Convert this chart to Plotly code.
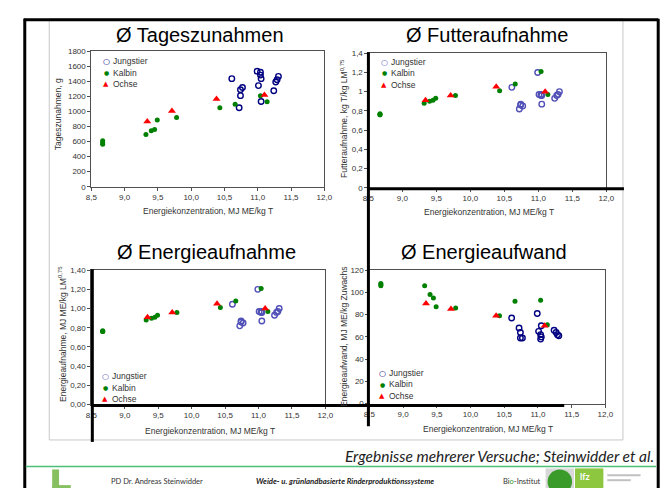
import plotly.graph_objects as go

W, H = 668, 488

# ---------------- data ----------------
x_ticks = [8.5, 9.0, 9.5, 10.0, 10.5, 11.0, 11.5, 12.0]
x_ticktext = ["8,5", "9,0", "9,5", "10,0", "10,5", "11,0", "11,5", "12,0"]

tz_ticks = [0, 200, 400, 600, 800, 1000, 1200, 1400, 1600, 1800]
tz_ticktext = ["0", "200", "400", "600", "800", "1000", "1200", "1400", "1600", "1800"]
fa_ticks = [0, 0.2, 0.4, 0.6, 0.8, 1.0, 1.2, 1.4]
fa_ticktext = ["0", "0,2", "0,4", "0,6", "0,8", "1", "1,2", "1,4"]
ea_ticks = [0, 0.2, 0.4, 0.6, 0.8, 1.0, 1.2, 1.4]
ea_ticktext = ["0,00", "0,20", "0,40", "0,60", "0,80", "1,00", "1,20", "1,40"]
aw_ticks = [0, 20, 40, 60, 80, 100, 120]
aw_ticktext = ["0", "20", "40", "60", "80", "100", "120"]

series_names = ["Jungstier", "Kalbin", "Ochse"]

jung_x = [10.61, 10.72, 10.74, 10.74, 10.77, 10.99, 11.01, 11.04, 11.04, 11.05, 11.05, 11.24, 11.27, 11.29, 11.31]
jung_tz = [1436, 1050, 1210, 1288, 1318, 1535, 1344, 1522, 1483, 1436, 1132, 1275, 1392, 1422, 1466]
jung_fa = [1.045, 0.82, 0.86, 0.87, 0.85, 1.20, 0.97, 0.97, 0.96, 0.96, 0.87, 0.93, 0.96, 0.97, 1.00]
jung_ea = [1.045, 0.82, 0.86, 0.87, 0.85, 1.20, 0.97, 0.97, 0.96, 0.96, 0.87, 0.93, 0.96, 0.97, 1.00]
jung_aw = [77, 68, 64, 59, 59, 81, 65, 62, 58, 70, 60, 66, 64, 62, 61]

kalb_x = [8.67, 8.67, 8.67, 9.32, 9.40, 9.45, 9.49, 9.78, 10.43, 10.66, 11.04, 11.14]
kalb_tz = [610, 585, 565, 695, 745, 760, 885, 920, 1050, 1095, 1210, 1130]
kalb_fa = [0.77, 0.76, 0.76, 0.88, 0.90, 0.91, 0.93, 0.96, 1.01, 1.08, 1.21, 0.97]
kalb_ea = [0.77, 0.76, 0.76, 0.88, 0.90, 0.91, 0.93, 0.96, 1.01, 1.08, 1.21, 0.97]
kalb_aw = [108, 107, 106, 106, 98, 95, 87, 86, 79, 92, 93, 71]

ochs_x = [9.34, 9.71, 10.38, 11.10]
ochs_tz = [865, 1005, 1165, 1220]
ochs_fa = [0.91, 0.96, 1.05, 1.00]
ochs_ea = [0.91, 0.96, 1.05, 1.00]
ochs_aw = [90, 85, 79, 70]

titles = ["Ø Tageszunahmen", "Ø Futteraufnahme", "Ø Energieaufnahme", "Ø Energieaufwand"]
x_title = "Energiekonzentration, MJ ME/kg T"
y_titles = ["Tageszunahmen, g",
            "Futteraufnahme, kg T/kg LM<sup>0,75</sup>",
            "Energieaufnahme, MJ ME/kg LM<sup>0,75</sup>",
            "Energieaufwand, MJ ME/kg Zuwachs"]
source_text = "Ergebnisse mehrerer Versuche; Steinwidder et al."
footer_author = "PD Dr. Andreas Steinwidder"
footer_title = "Weide- u. grünlandbasierte Rinderproduktionssysteme"

# ---------------- helpers ----------------
def px(x):
    return x / W

def py(y):
    return 1 - y / H

# plot areas in pixels: (left, right, top, bottom)
areas = {1: (79, 317, 40, 178), 2: (362, 605, 42, 179),
         3: (79, 318, 263, 400), 4: (363, 604, 263, 399)}

FONT = "Liberation Sans, Arial, sans-serif"
NAVY = "#000080"
LBLUE = "#5050B8"
GREEN = "#008000"
RED = "#FF0000"

charts = [
    (1, jung_tz, kalb_tz, ochs_tz, tz_ticks, tz_ticktext, [0, 1800], NAVY),
    (2, jung_fa, kalb_fa, ochs_fa, fa_ticks, fa_ticktext, [0, 1.4], LBLUE),
    (3, jung_ea, kalb_ea, ochs_ea, ea_ticks, ea_ticktext, [0, 1.4], LBLUE),
    (4, jung_aw, kalb_aw, ochs_aw, aw_ticks, aw_ticktext, [0, 120], NAVY),
]

fig = go.Figure()
layout = dict(width=W, height=H, autosize=False,
              margin=dict(l=0, r=0, t=0, b=0),
              paper_bgcolor="white", plot_bgcolor="white",
              showlegend=False)

annotations = []
shapes = []

for (i, jy, ky, oy, yt, ytt, yr, jcol) in charts:
    xa = "x" if i == 1 else f"x{i}"
    ya = "y" if i == 1 else f"y{i}"
    fig.add_trace(go.Scatter(x=jung_x, y=jy, mode="markers", name=series_names[0],
                             xaxis=xa, yaxis=ya,
                             marker=dict(symbol="circle-open", size=5.5, color=jcol,
                                         line=dict(width=1.4, color=jcol))))
    fig.add_trace(go.Scatter(x=kalb_x, y=ky, mode="markers", name=series_names[1],
                             xaxis=xa, yaxis=ya,
                             marker=dict(symbol="circle", size=5, color=GREEN)))
    fig.add_trace(go.Scatter(x=ochs_x, y=oy, mode="markers", name=series_names[2],
                             xaxis=xa, yaxis=ya,
                             marker=dict(symbol="triangle-up", size=7, color=RED)))
    l, r, t, b = areas[i]
    axcommon = dict(showline=True, mirror=True, linecolor="#505050", linewidth=1,
                    ticks="outside", ticklen=3, tickcolor="#505050", tickwidth=1,
                    showgrid=False, zeroline=False, fixedrange=True,
                    tickfont=dict(family=FONT, size=8, color="#333333"))
    layout["xaxis" if i == 1 else f"xaxis{i}"] = dict(
        domain=[px(l), px(r)], range=[8.5, 12.0], anchor=ya,
        tickvals=x_ticks, ticktext=x_ticktext, **axcommon)
    layout["yaxis" if i == 1 else f"yaxis{i}"] = dict(
        domain=[py(b), py(t)], range=yr, anchor=xa,
        tickvals=yt, ticktext=ytt, **axcommon)

# titles
title_pos = [(190, 23), (483, 23), (197, 245), (480, 244)]
for (tx, ty), txt in zip(title_pos, titles):
    annotations.append(dict(text=txt, x=px(tx), y=py(ty), xref="paper", yref="paper",
                            xanchor="center", yanchor="middle", showarrow=False,
                            font=dict(family=FONT, size=20, color="black")))

# x axis titles
xt_pos = [(198, 203), (485, 204), (200, 427), (484, 425)]
for (tx, ty) in xt_pos:
    annotations.append(dict(text=x_title, x=px(tx), y=py(ty), xref="paper", yref="paper",
                            xanchor="center", yanchor="middle", showarrow=False,
                            font=dict(family=FONT, size=8.5, color="#333333")))

# y axis titles
yt_pos = [(45, 104), (337, 108), (50, 328), (337, 331)]
for (tx, ty), txt in zip(yt_pos, y_titles):
    annotations.append(dict(text=txt, x=px(tx), y=py(ty), xref="paper", yref="paper",
                            xanchor="center", yanchor="middle", showarrow=False,
                            textangle=-90,
                            font=dict(family=FONT, size=8.5, color="#333333")))

# legends (symbol glyph + label)
leg = [
    (94, 99, [50, 62, 73], NAVY),
    (378, 383, [51, 62, 74], LBLUE),
    (93, 98, [371, 383, 394], LBLUE),
    (376, 381, [368, 379, 391], NAVY),
]
for (sx, tx, ys, jc) in leg:
    syms = [("○", jc, 8), ("●", GREEN, 6), ("▲", RED, 7)]
    for (g, c, s), yy, nm in zip(syms, ys, series_names):
        annotations.append(dict(text=f"<b>{g}</b>", x=px(sx), y=py(yy), xref="paper", yref="paper",
                                xanchor="center", yanchor="middle", showarrow=False,
                                font=dict(family="DejaVu Sans", size=s, color=c)))
        annotations.append(dict(text=nm, x=px(tx), y=py(yy), xref="paper", yref="paper",
                                xanchor="left", yanchor="middle", showarrow=False,
                                font=dict(family=FONT, size=8.5, color="#333333")))

# source + footer
annotations.append(dict(text=f"<i>{source_text}</i>", x=px(656), y=py(452), xref="paper", yref="paper",
                        xanchor="right", yanchor="middle", showarrow=False,
                        font=dict(family="Lato, Open Sans, sans-serif", size=15.5, color="#222222")))
annotations.append(dict(text=footer_author, x=px(97), y=py(478), xref="paper", yref="paper",
                        xanchor="left", yanchor="middle", showarrow=False,
                        font=dict(family="Lato, sans-serif", size=7.5, color="#333333")))
annotations.append(dict(text=f"<b><i>{footer_title}</i></b>", x=px(245), y=py(478), xref="paper", yref="paper",
                        xanchor="left", yanchor="middle", showarrow=False,
                        font=dict(family="Lato, sans-serif", size=7.8, color="#222222")))
annotations.append(dict(text="Bi<span style='color:#3a9a2a'>o</span>-Institut", x=px(497), y=py(478),
                        xref="paper", yref="paper", xanchor="left", yanchor="middle", showarrow=False,
                        font=dict(family="Lato, sans-serif", size=7.5, color="#333333")))
annotations.append(dict(text="<b>lfz</b>", x=px(576), y=py(473), xref="paper", yref="paper",
                        xanchor="left", yanchor="middle", showarrow=False,
                        font=dict(family="Lato, sans-serif", size=9, color="white")))

def line(x0, y0, x1, y1, color="black", width=3, layer="above"):
    return dict(type="line", xref="paper", yref="paper", x0=px(x0), y0=py(y0),
                x1=px(x1), y1=py(y1), line=dict(color=color, width=width), layer=layer)

def rect(x0, y0, x1, y1, fill, lc=None, lw=0, layer="above"):
    return dict(type="rect", xref="paper", yref="paper", x0=px(x0), y0=py(y0),
                x1=px(x1), y1=py(y1), fillcolor=fill,
                line=dict(color=lc or fill, width=lw), layer=layer)

# light gray frame around chart block
shapes.append(dict(type="rect", xref="paper", yref="paper", x0=px(36), y0=py(7), x1=px(622), y1=py(436),
                   line=dict(color="#c8c8c8", width=1), fillcolor="rgba(0,0,0,0)", layer="below"))
# slide border
shapes.append(line(10, 8, 658, 8))
shapes.append(line(11, 7, 11, 488))
shapes.append(line(658, 7, 658, 488))
# thick inner lines
shapes.append(line(362, 41, 362, 422))
shapes.append(line(361, 180, 623, 180))
shapes.append(line(80, 262, 80, 438))
shapes.append(line(79, 401, 562, 401))
# green separator
shapes.append(line(12, 463, 656, 463, color="#4cc07a", width=1.5))
# logos
shapes.append(rect(39, 466, 46, 488, "#86c060"))
shapes.append(rect(39, 482, 58, 488, "#86c060"))
shapes.append(rect(543, 465, 572, 488, "#d8d8d8"))
shapes.append(dict(type="circle", xref="paper", yref="paper", x0=px(545), y0=py(466), x1=px(570),
                   y1=py(491), fillcolor="#3a9a2a", line=dict(color="#2f8a22", width=0)))
shapes.append(rect(573, 465, 602, 488, "#8dc63f"))
shapes.append(rect(606, 471, 640, 473, "#c0c0c0"))
shapes.append(rect(606, 476, 630, 478, "#c0c0c0"))

layout["annotations"] = annotations
layout["shapes"] = shapes
fig.update_layout(**layout)
fig.write_html("out.html")
